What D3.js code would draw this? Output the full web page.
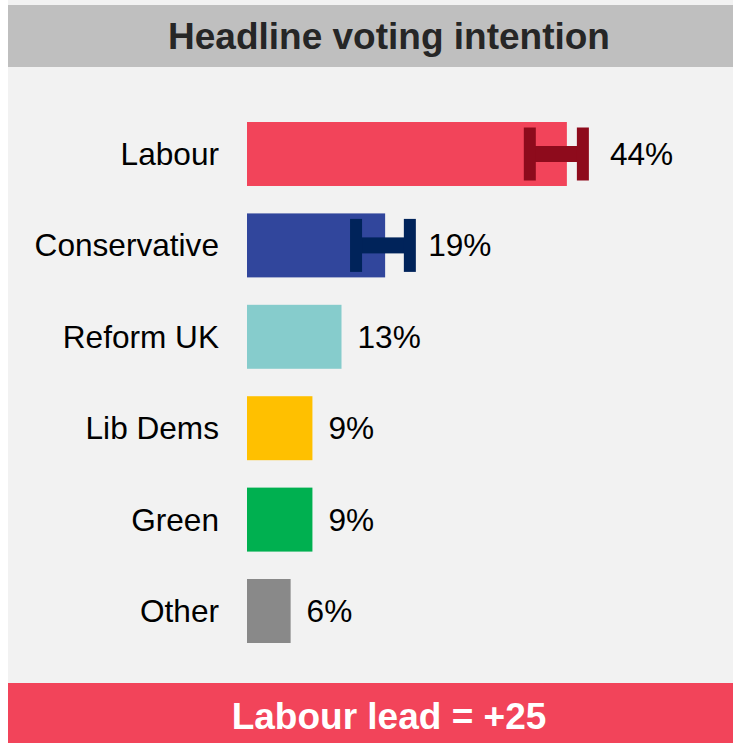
<!DOCTYPE html>
<html>
<head>
<meta charset="utf-8">
<script src="https://cdn.jsdelivr.net/npm/d3@7"></script>
<style>
  html, body { margin: 0; padding: 0; background: #ffffff; }
  svg { display: block; }
</style>
</head>
<body>
<script>
const title = "Headline voting intention";
const footer = "Labour lead = +25";
const categories = ["Labour", "Conservative", "Reform UK", "Lib Dems", "Green", "Other"];
const values = [44, 19, 13, 9, 9, 6];
const barColors = ["#f2445a", "#31469c", "#86cccc", "#ffc000", "#00b050", "#898989"];
// error ranges (low, high) only for the first two parties
const errLow = [38.9, 15.0, null, null, null, null];
const errHigh = [46.2, 22.4, null, null, null, null];
const errColors = ["#8e0b1c", "#00235a", null, null, null, null];

const W = 733, H = 743;
const svg = d3.select("body").append("svg").attr("width", W).attr("height", H);
const font = "'Liberation Sans', Arial, Helvetica, sans-serif";

// backgrounds
svg.append("rect").attr("x", 0).attr("y", 0).attr("width", W).attr("height", H).attr("fill", "#ffffff");
svg.append("rect").attr("x", 8).attr("y", 0).attr("width", W - 8).attr("height", H).attr("fill", "#f2f2f2");
svg.append("rect").attr("x", 8).attr("y", 5).attr("width", W - 8).attr("height", 62).attr("fill", "#bfbfbf");
svg.append("rect").attr("x", 8).attr("y", 683).attr("width", W - 8).attr("height", 60).attr("fill", "#f2445a");

svg.append("text").attr("x", 389).attr("y", 49)
  .attr("text-anchor", "middle").attr("font-family", font).attr("font-weight", "bold")
  .attr("font-size", 37).attr("fill", "#262626").text(title);

svg.append("text").attr("x", 389).attr("y", 729)
  .attr("text-anchor", "middle").attr("font-family", font).attr("font-weight", "bold")
  .attr("font-size", 37).attr("fill", "#ffffff").text(footer);

const x = d3.scaleLinear().domain([0, 100]).range([247, 247 + 727]);
const y = d3.scaleBand().domain(categories).range([108.3, 656.7]).paddingInner(0.3).paddingOuter(0.15);

const data = categories.map((c, i) => ({
  cat: c, v: values[i], color: barColors[i], lo: errLow[i], hi: errHigh[i], ec: errColors[i]
}));

const g = svg.append("g");

g.selectAll("rect.bar").data(data).enter().append("rect")
  .attr("class", "bar")
  .attr("x", x(0)).attr("y", d => y(d.cat))
  .attr("width", d => x(d.v) - x(0)).attr("height", y.bandwidth())
  .attr("fill", d => d.color);

// error bars
const capW = 12, capH = 53, barH = 16;
const eb = g.selectAll("g.err").data(data.filter(d => d.lo != null)).enter().append("g").attr("class", "err");
eb.append("rect")
  .attr("x", d => x(d.lo)).attr("y", d => y(d.cat) + y.bandwidth() / 2 - barH / 2)
  .attr("width", d => x(d.hi) - x(d.lo)).attr("height", barH).attr("fill", d => d.ec);
eb.append("rect")
  .attr("x", d => x(d.lo) - capW / 2).attr("y", d => y(d.cat) + y.bandwidth() / 2 - capH / 2)
  .attr("width", capW).attr("height", capH).attr("fill", d => d.ec);
eb.append("rect")
  .attr("x", d => x(d.hi) - capW / 2).attr("y", d => y(d.cat) + y.bandwidth() / 2 - capH / 2)
  .attr("width", capW).attr("height", capH).attr("fill", d => d.ec);

// category labels
g.selectAll("text.cat").data(data).enter().append("text")
  .attr("class", "cat")
  .attr("x", 219).attr("y", d => y(d.cat) + y.bandwidth() / 2 + 11)
  .attr("text-anchor", "end").attr("font-family", font).attr("font-size", 31.6)
  .attr("fill", "#000000").text(d => d.cat);

// value labels
g.selectAll("text.val").data(data).enter().append("text")
  .attr("class", "val")
  .attr("x", d => x(d.v) + (d.hi != null ? 43 : 16))
  .attr("y", d => y(d.cat) + y.bandwidth() / 2 + 11)
  .attr("font-family", font).attr("font-size", 31.6)
  .attr("fill", "#000000").text(d => d.v + "%");
</script>
</body>
</html>
